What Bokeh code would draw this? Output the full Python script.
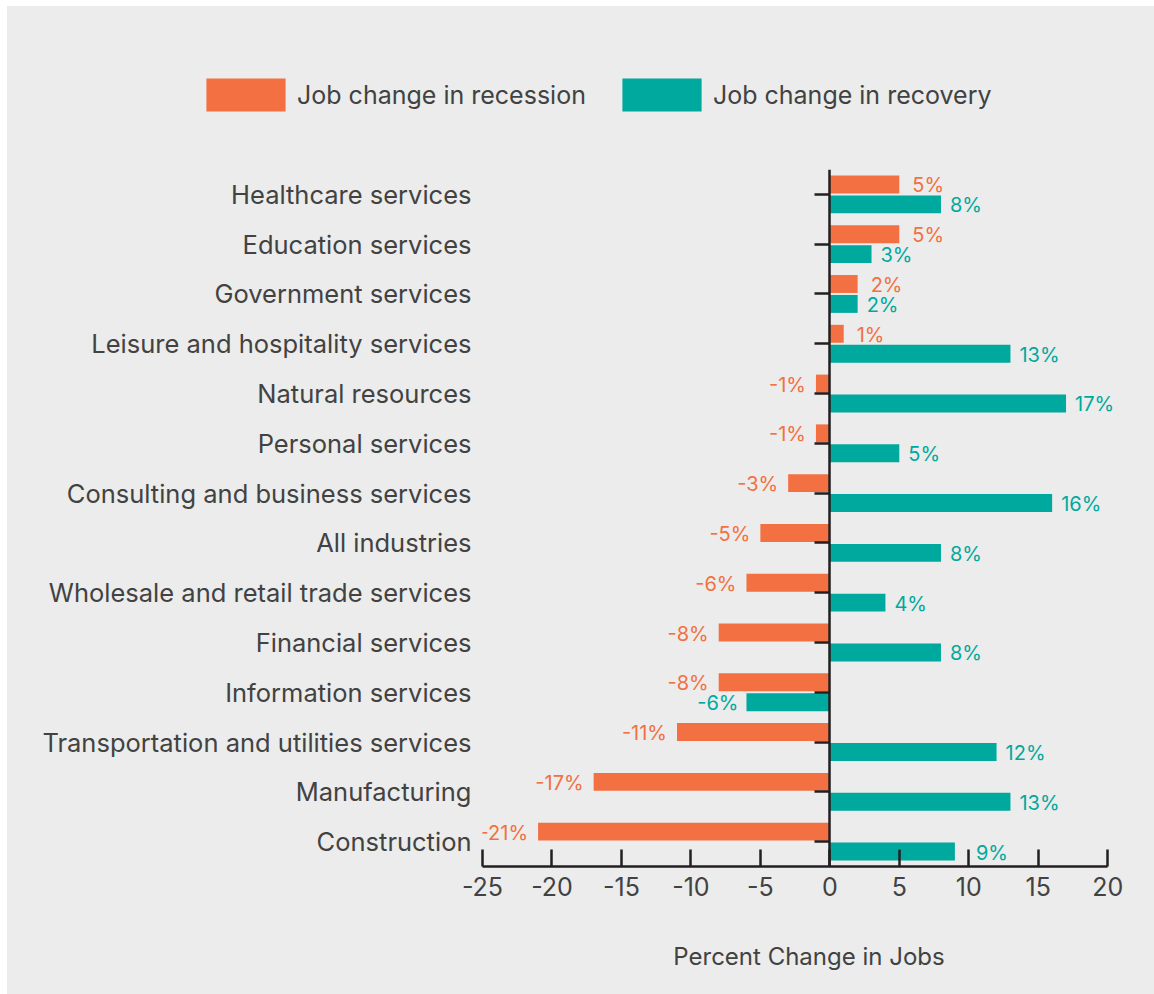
from bokeh.plotting import figure
from bokeh.layouts import column
from bokeh.models import (ColumnDataSource, FactorRange, Range1d, CategoricalAxis,
                          Legend, LegendItem, FixedTicker, PrintfTickFormatter)
from bokeh.transform import dodge
from bokeh.core.properties import value
from bokeh.embed import file_html
from bokeh.resources import INLINE

categories = ["Healthcare services", "Education services", "Government services",
              "Leisure and hospitality services", "Natural resources", "Personal services",
              "Consulting and business services", "All industries",
              "Wholesale and retail trade services", "Financial services",
              "Information services", "Transportation and utilities services",
              "Manufacturing", "Construction"]
recession = [5, 5, 2, 1, -1, -1, -3, -5, -6, -8, -8, -11, -17, -21]
recovery = [8, 3, 2, 13, 17, 5, 16, 8, 4, 8, -6, 12, 13, 9]
x_ticks = [-25, -20, -15, -10, -5, 0, 5, 10, 15, 20]
series_names = ["Job change in recession", "Job change in recovery"]
x_title = "Percent Change in Jobs"

ORANGE = "#F37042"
TEAL = "#00A99D"
BG = "#EBECEB"
TXT = "#424242"
AXC = "#231F20"
FONT = "Inter"

# extra label nudge (px) where a label would sit on an axis tick
extra_nudge = {"Construction": 12}

src = ColumnDataSource(dict(
    cat=categories,
    zero=[0] * len(categories),
    rec=recession,
    recov=recovery,
    rec_lab=[f"{v}%" for v in recession],
    recov_lab=[f"{v}%" for v in recovery],
    rec_align=["left" if v >= 0 else "right" for v in recession],
    recov_align=["left" if v >= 0 else "right" for v in recovery],
    rec_off=[13 if v >= 0 else -10 for v in recession],
    recov_off=[(9 + extra_nudge.get(c, 0)) if v >= 0 else -8
               for c, v in zip(categories, recovery)],
))

# ---------- legend strip ----------
lg = figure(width=1147, height=159, output_backend="svg", toolbar_location=None,
            x_range=Range1d(0, 1), y_range=Range1d(0, 1), min_border=0,
            y_axis_location=None, x_axis_location=None)
lg.frame_align = False
lg.grid.visible = False
lg.outline_line_color = None
lg.background_fill_color = BG
lg.border_fill_color = BG
g1 = lg.hbar(y="cat", left="zero", right="rec", height=1, source=src,
             fill_color=ORANGE, line_color=None, visible=False)
g2 = lg.hbar(y="cat", left="zero", right="recov", height=1, source=src,
             fill_color=TEAL, line_color=None, visible=False)
legend = Legend(items=[LegendItem(label=series_names[0], renderers=[g1]),
                       LegendItem(label=series_names[1], renderers=[g2])],
                orientation="horizontal", location=(189, 50),
                glyph_width=99, glyph_height=41, label_standoff=2, spacing=26,
                padding=0, margin=0, border_line_color=None, background_fill_alpha=0,
                inactive_fill_alpha=0,
                label_text_font=FONT, label_text_font_size="25px", label_text_color=TXT)
lg.add_layout(legend, "center")

# ---------- main chart ----------
p = figure(width=1147, height=829, output_backend="svg", toolbar_location=None,
           y_range=FactorRange(factors=list(reversed(categories))),
           x_range=Range1d(-25, 22),
           min_border_left=475, min_border_right=19, min_border_top=4,
           min_border_bottom=128)
p.frame_align = False
p.background_fill_color = BG
p.border_fill_color = BG
p.outline_line_color = None
p.xgrid.grid_line_color = None
p.ygrid.grid_line_color = None

p.hbar(y=dodge("cat", 0.2, range=p.y_range), left="zero", right="rec", height=0.36,
       source=src, fill_color=ORANGE, line_color=None)
p.hbar(y=dodge("cat", -0.2, range=p.y_range), left="zero", right="recov", height=0.36,
       source=src, fill_color=TEAL, line_color=None)

p.text(x="rec", y=dodge("cat", 0.2, range=p.y_range), text="rec_lab", source=src,
       text_align="rec_align", text_baseline="middle", x_offset="rec_off", y_offset=1,
       text_color=ORANGE, text_font=value(FONT), text_font_size="20px")
p.text(x="recov", y=dodge("cat", -0.2, range=p.y_range), text="recov_lab", source=src,
       text_align="recov_align", text_baseline="middle", x_offset="recov_off", y_offset=1,
       text_color=TEAL, text_font=value(FONT), text_font_size="20px")

# x axis
xa = p.xaxis[0]
xa.ticker = FixedTicker(ticks=x_ticks)
xa.formatter = PrintfTickFormatter(format="%d")
xa.bounds = (-25, 20)
xa.axis_line_color = AXC
xa.axis_line_width = 2.5
xa.major_tick_line_color = AXC
xa.major_tick_line_width = 2.5
xa.major_tick_in = 17
xa.major_tick_out = 0
xa.minor_tick_line_color = None
xa.major_label_text_font = FONT
xa.major_label_text_font_size = "25px"
xa.major_label_text_color = TXT
xa.major_label_standoff = 10
xa.axis_label = x_title
xa.axis_label_text_font = FONT
xa.axis_label_text_font_size = "24px"
xa.axis_label_text_font_style = "normal"
xa.axis_label_text_color = TXT
xa.axis_label_standoff = 43

# category labels axis
ya = p.yaxis[0]
ya.axis_line_color = None
ya.major_tick_line_color = None
ya.minor_tick_line_color = None
ya.major_label_text_font = FONT
ya.major_label_text_font_size = "25.5px"
ya.major_label_text_color = TXT
ya.major_label_standoff = 5

# zero line axis with ticks
za = CategoricalAxis(fixed_location=0)
za.axis_line_color = AXC
za.axis_line_width = 2.5
za.major_tick_line_color = AXC
za.major_tick_line_width = 2.5
za.major_tick_in = 0
za.major_tick_out = 15
za.major_label_text_font_size = "0px"
za.major_label_text_color = None
p.add_layout(za, "left")

layout = column(lg, p, spacing=0, margin=(6, 0, 0, 7),
                styles={"background-color": BG})
open("out.html", "w").write(file_html(layout, INLINE))
